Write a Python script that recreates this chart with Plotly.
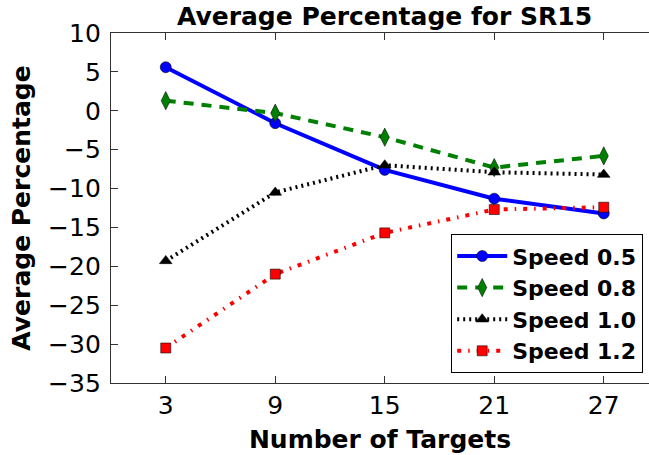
import plotly.graph_objects as go

# Number of targets on the x axis
targets = [3, 9, 15, 21, 27]

# Average percentage per speed setting
speed_05 = [5.6, -1.6, -7.6, -11.3, -13.2]
speed_08 = [1.3, -0.3, -3.4, -7.3, -5.8]
speed_10 = [-19.3, -10.5, -7.0, -7.9, -8.2]
speed_12 = [-30.5, -21.0, -15.7, -12.7, -12.4]

series_names = ["Speed 0.5", "Speed 0.8", "Speed 1.0", "Speed 1.2"]
y_ticks = [10, 5, 0, -5, -10, -15, -20, -25, -30, -35]
x_ticks = targets

FONT = "DejaVu Sans"
W, H = 649, 455
M_L, M_R, M_T, M_B = 111, 0, 33, 72
PX_PER_UNIT = 18.25  # horizontal scale of the x axis

styles = [
    dict(color="#0000ff", dash="solid", symbol="circle", size=11),
    dict(color="#008000", dash="10px,8px", symbol="diamond-tall", size=13),
    dict(color="#000000", dash="2px,4px", symbol="triangle-up", size=11),
    dict(color="#ff0000", dash="4px,7px,1.5px,7px", symbol="square", size=10),
]

fig = go.Figure()
for name, values, st in zip(series_names, [speed_05, speed_08, speed_10, speed_12], styles):
    fig.add_trace(go.Scatter(
        x=targets, y=values, name=name, mode="lines+markers",
        line=dict(color=st["color"], width=4, dash=st["dash"]),
        marker=dict(symbol=st["symbol"], size=st["size"], color=st["color"],
                    line=dict(color="rgba(0,0,0,0.7)", width=0.8)),
        cliponaxis=False,
    ))

x_max = (W - M_L - M_R) / PX_PER_UNIT

fig.update_layout(
    width=W, height=H,
    margin=dict(l=M_L, r=M_R, t=M_T, b=M_B, pad=0),
    paper_bgcolor="white", plot_bgcolor="white",
    font=dict(family=FONT, size=25, color="black"),
    title=dict(text="<b>Average Percentage for SR15</b>",
               x=(384.5 - M_L) / (W - M_L - M_R), xref="paper", xanchor="center",
               y=1 - 16 / H, yref="container", yanchor="middle",
               font=dict(family=FONT, size=25, color="black")),
    showlegend=True,
    legend=dict(x=(643 - M_L) / (W - M_L - M_R), xanchor="right",
                y=10 / (H - M_T - M_B), yanchor="bottom",
                bgcolor="white", bordercolor="black", borderwidth=1.2,
                font=dict(family=FONT, size=22, color="black", weight="bold"),
                itemwidth=50, traceorder="normal"),
    xaxis=dict(range=[0, x_max], tickvals=x_ticks, ticktext=[str(t) for t in x_ticks],
               showgrid=False, zeroline=False, showline=True, linecolor="#333",
               linewidth=1.3, mirror="ticks", ticks="inside", ticklen=7,
               tickwidth=1, tickcolor="#333", ticklabelstandoff=0,
               tickfont=dict(family=FONT, size=25, color="black"),
               title=dict(text="<b>Number of Targets</b>", standoff=11,
                          font=dict(family=FONT, size=25, color="black"))),
    yaxis=dict(range=[-35, 10], tickvals=y_ticks, showgrid=False, zeroline=False,
               showline=True, linecolor="#333", linewidth=1.3, mirror=False,
               ticks="inside", ticklen=7, tickwidth=1, tickcolor="#333",
               ticklabelstandoff=4,
               tickfont=dict(family=FONT, size=25, color="black"),
               title=dict(text="<b>Average Percentage</b>", standoff=10,
                          font=dict(family=FONT, size=25, color="black"))),
)

fig.write_html("out.html")
